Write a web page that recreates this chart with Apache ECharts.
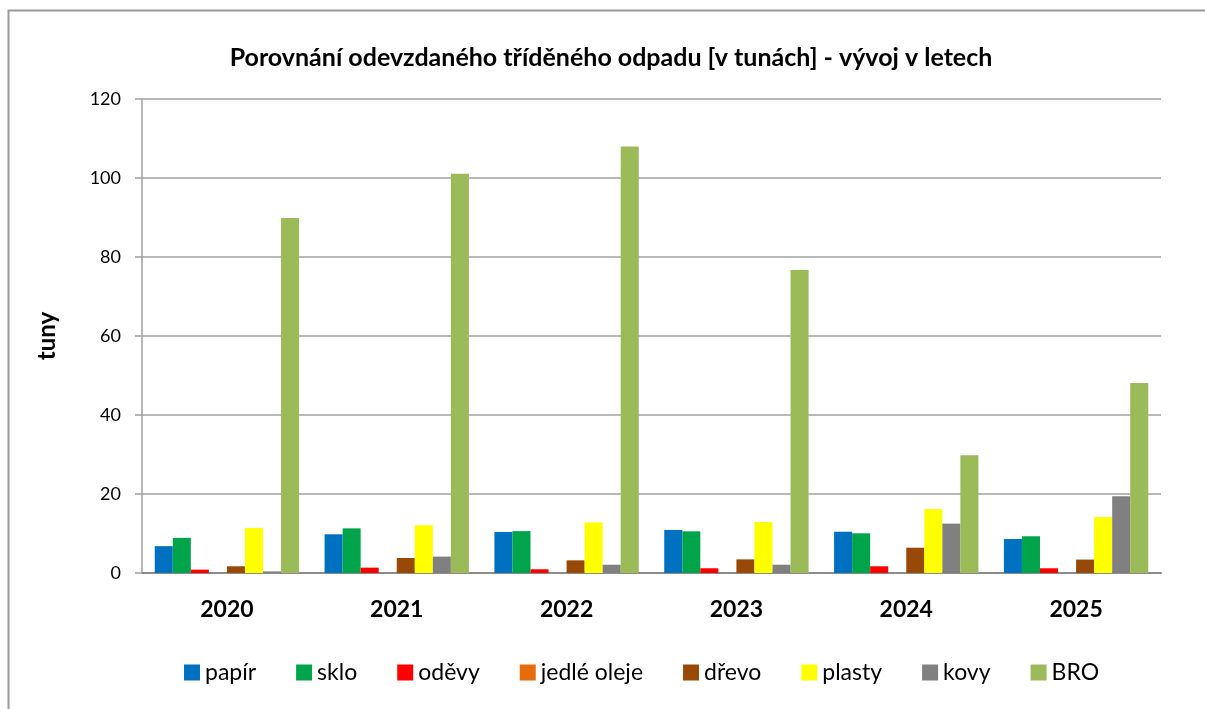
<!DOCTYPE html>
<html>
<head>
<meta charset="utf-8">
<script src="https://cdn.jsdelivr.net/npm/echarts@6/dist/echarts.min.js"></script>
<style>
html, body { margin: 0; padding: 0; background: #fff; }
#chart { width: 1205px; height: 709px; }
</style>
</head>
<body>
<div id="chart"></div>
<script>
// roky
var years = ['2020', '2021', '2022', '2023', '2024', '2025'];

// hodnoty v tunach
var papir = [6.8, 9.8, 10.4, 10.9, 10.45, 8.6];
var sklo = [8.9, 11.3, 10.6, 10.55, 10.05, 9.3];
var odevy = [0.85, 1.35, 0.95, 1.2, 1.7, 1.2];
var jedleOleje = [0, 0, 0, 0, 0, 0];
var drevo = [1.7, 3.8, 3.2, 3.45, 6.4, 3.4];
var plasty = [11.4, 12.1, 12.8, 12.9, 16.2, 14.2];
var kovy = [0.4, 4.15, 2.1, 2.1, 12.5, 19.4];
var bro = [89.9, 101.1, 108.0, 76.7, 29.8, 48.1];

var seriesNames = ['papír', 'sklo', 'oděvy', 'jedlé oleje', 'dřevo', 'plasty', 'kovy', 'BRO'];
var seriesData = [papir, sklo, odevy, jedleOleje, drevo, plasty, kovy, bro];
var colors = ['#0070C0', '#00A44A', '#FF0000', '#E46C0A', '#984807', '#FFFF00', '#808080', '#9BBB59'];

var fontName = 'Lato';

var series = [];
for (var i = 0; i < seriesNames.length; i++) {
    series.push({
        name: seriesNames[i],
        type: 'bar',
        barGap: '0%',
        barCategoryGap: '15%',
        data: seriesData[i],
        itemStyle: { color: colors[i] }
    });
}

var myChart = echarts.init(document.getElementById('chart'));

var option = {
    backgroundColor: '#fff',
    animation: false,
    color: colors,
    title: {
        text: 'Porovnání odevzdaného tříděného odpadu [v tunách] - vývoj v letech',
        left: 606,
        textAlign: 'center',
        top: 40,
        textStyle: {
            fontFamily: fontName,
            fontSize: 25,
            fontWeight: 'bold',
            color: '#000'
        }
    },
    legend: {
        top: 661,
        left: 184,
        padding: 0,
        itemWidth: 16,
        itemHeight: 16,
        itemGap: 40,
        icon: 'rect',
        textStyle: {
            fontFamily: fontName,
            fontSize: 23,
            color: '#000'
        },
        data: seriesNames
    },
    grid: {
        left: 142,
        right: 44,
        top: 99,
        bottom: 136,
        containLabel: false
    },
    xAxis: {
        type: 'category',
        data: years,
        axisLine: { lineStyle: { color: '#8c8c8c', width: 2 } },
        axisTick: { show: false },
        axisLabel: {
            fontFamily: fontName,
            fontSize: 23,
            fontWeight: 'bold',
            color: '#000',
            margin: 25
        }
    },
    yAxis: {
        type: 'value',
        min: 0,
        max: 120,
        interval: 20,
        name: 'tuny',
        nameLocation: 'middle',
        nameGap: 83,
        nameTextStyle: {
            fontFamily: fontName,
            fontSize: 24,
            fontWeight: 'bold',
            color: '#000'
        },
        axisLine: { show: true, lineStyle: { color: '#a0a0a0', width: 1.5 } },
        axisTick: { show: true, length: 7, lineStyle: { color: '#a0a0a0', width: 1.5 } },
        axisLabel: {
            fontFamily: fontName,
            fontSize: 18,
            color: '#000',
            margin: 21
        },
        splitLine: { show: true, lineStyle: { color: '#a0a0a0', width: 1.5 } }
    },
    graphic: [
        {
            type: 'polyline',
            shape: { points: [[8.5, 709], [8.5, 10.5], [1205, 10.5]] },
            style: { stroke: '#999', lineWidth: 2, fill: null }
        }
    ],
    series: series
};

myChart.setOption(option);
window.onresize = function () {
    myChart.resize();
};
</script>
</body>
</html>
